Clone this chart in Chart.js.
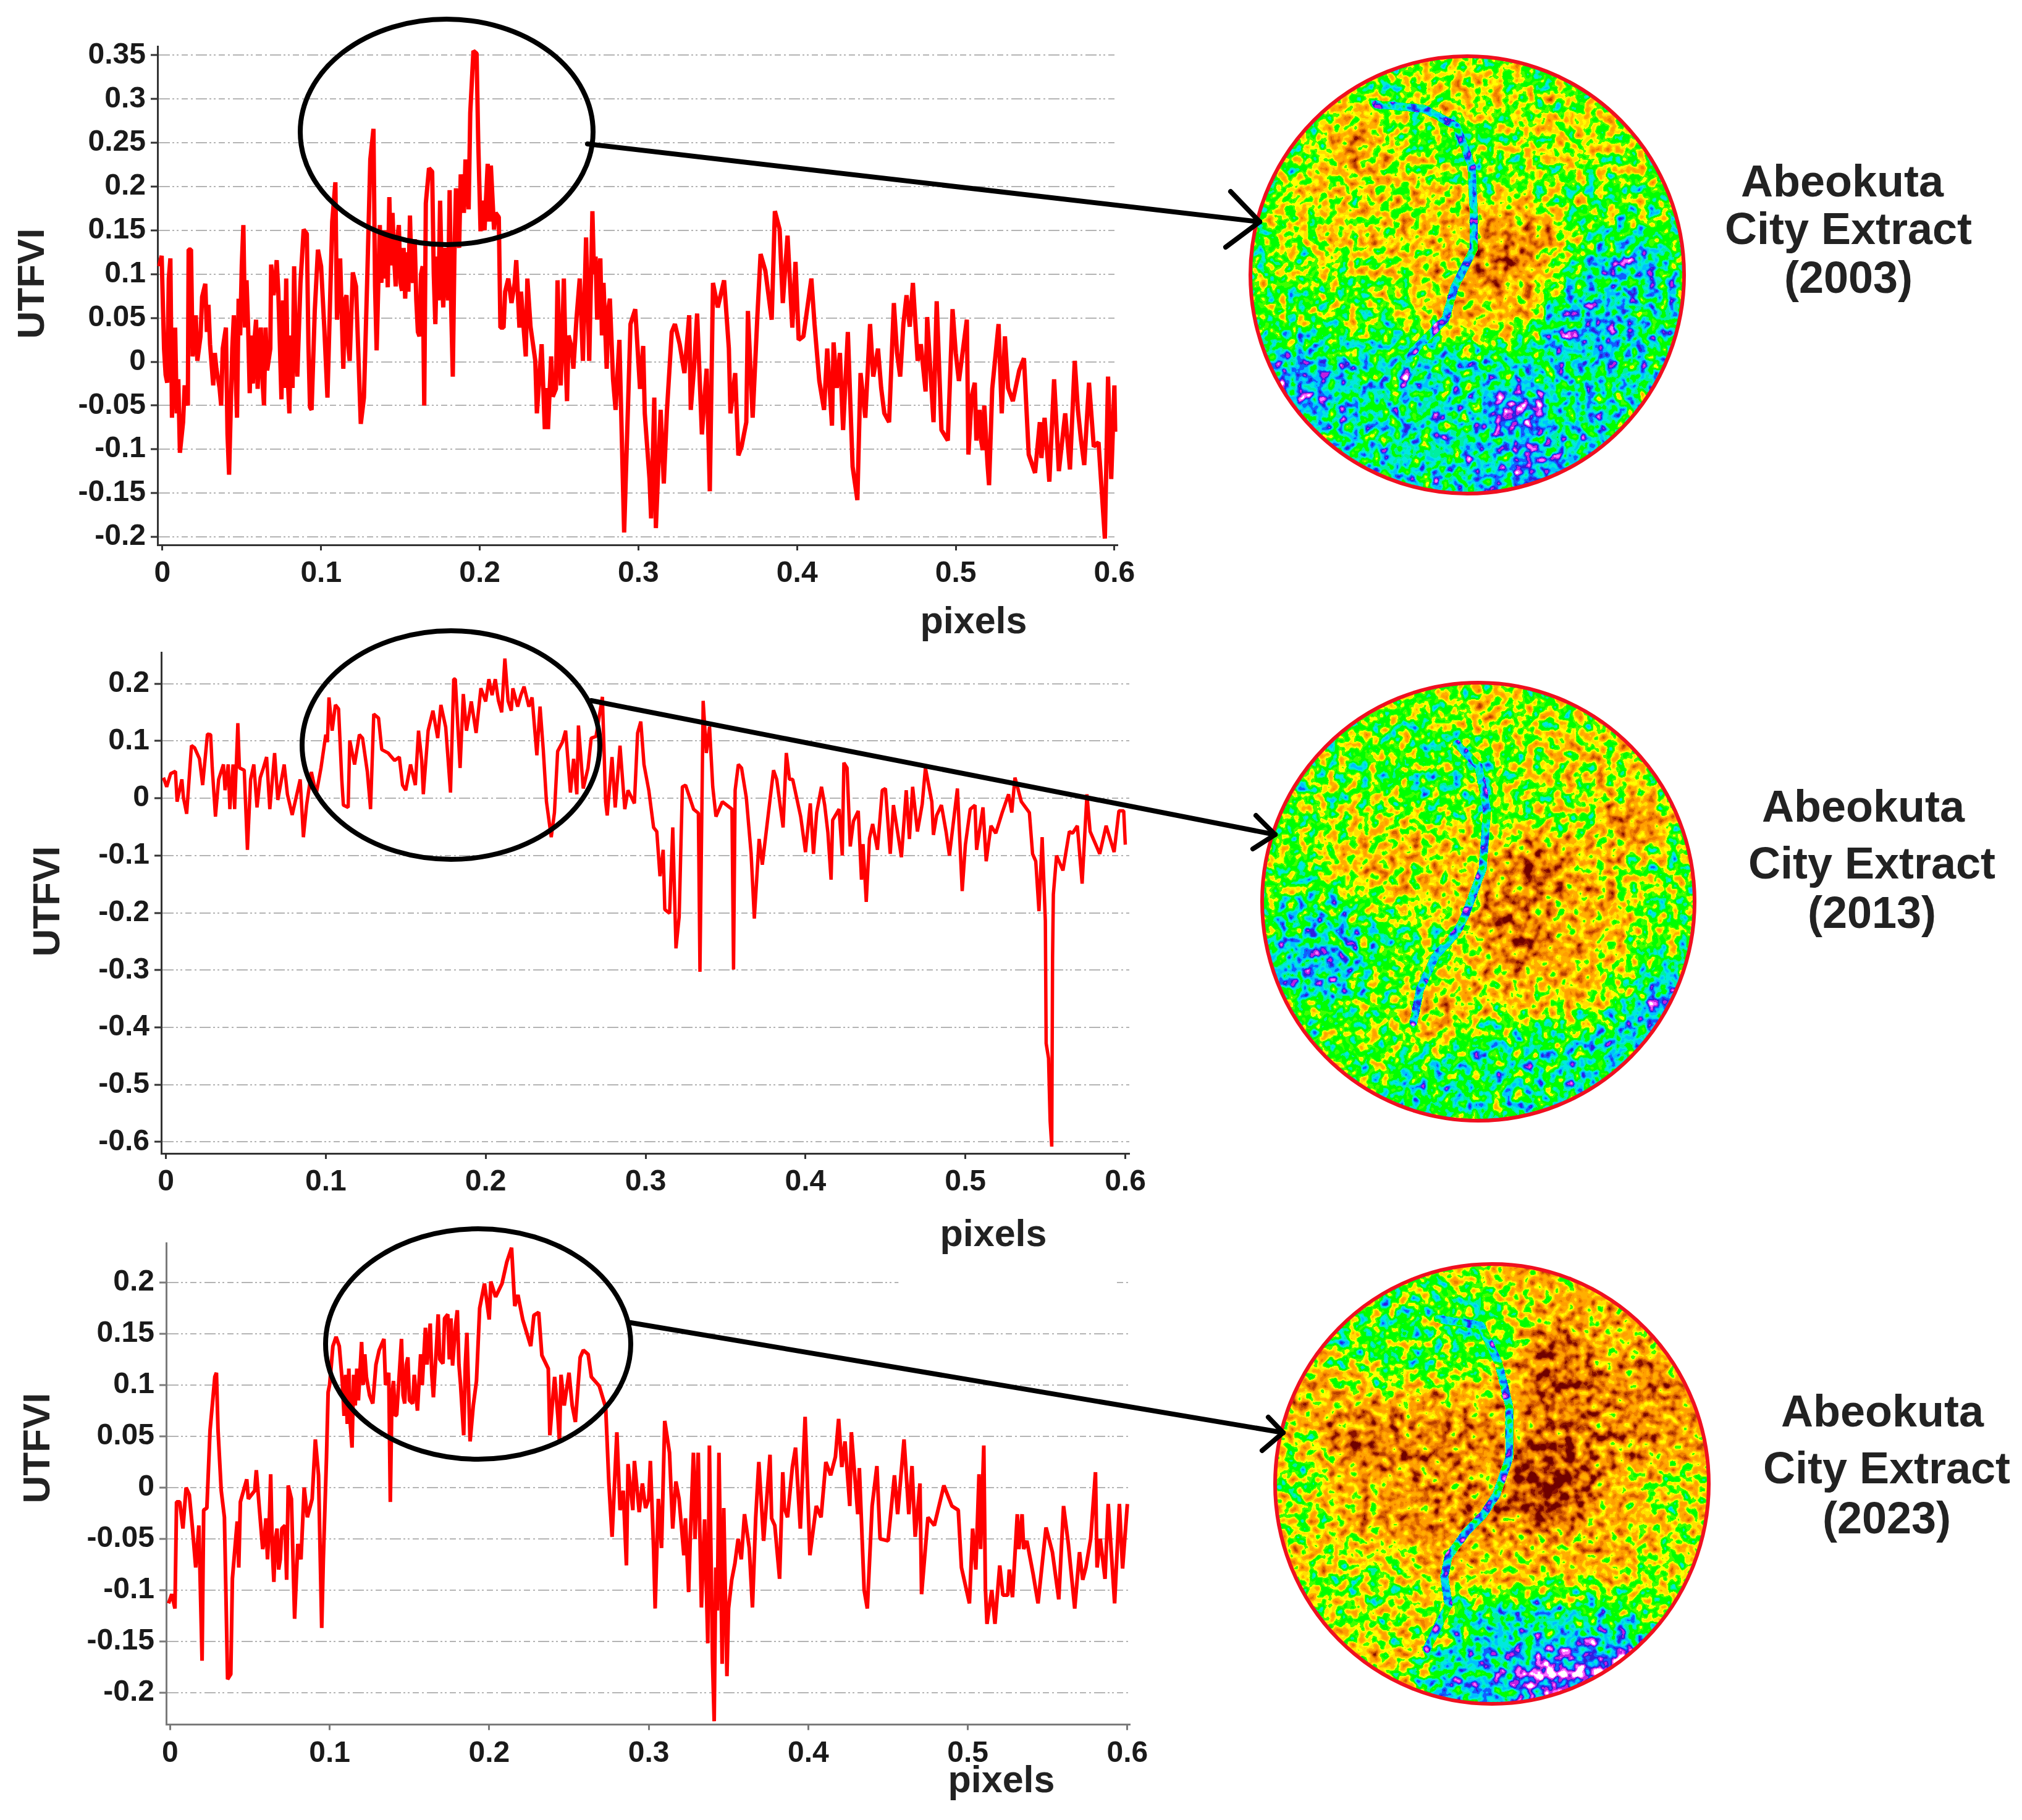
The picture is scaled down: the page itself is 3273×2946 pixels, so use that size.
<!DOCTYPE html>
<html>
<head>
<meta charset="utf-8">
<title>Abeokuta UTFVI</title>
<script src="https://cdn.jsdelivr.net/npm/chart.js@4"></script>
<style>
  html, body { margin: 0; padding: 0; background: #fff; }
  #page { position: relative; width: 3273px; height: 2946px; overflow: hidden; background: #fff; }
  canvas { position: absolute; left: 0; }
  #overlay { position: absolute; left: 0; top: 0; pointer-events: none; }
  #overlay text { font-family: "Liberation Sans", Arial, sans-serif; font-weight: bold; fill: #222; }
</style>
</head>
<body>
<div id="page">
  <canvas id="chart2003"></canvas>
  <canvas id="chart2013"></canvas>
  <canvas id="chart2023"></canvas>
  <svg id="overlay" width="3273" height="2946" xmlns="http://www.w3.org/2000/svg"></svg>
</div>
<script>
const xTickValues = [0, 0.1, 0.2, 0.3, 0.4, 0.5, 0.6];
const yTicks2003 = [0.35, 0.3, 0.25, 0.2, 0.15, 0.1, 0.05, 0, -0.05, -0.1, -0.15, -0.2];
const yTicks2013 = [0.2, 0.1, 0, -0.1, -0.2, -0.3, -0.4, -0.5, -0.6];
const yTicks2023 = [0.2, 0.15, 0.1, 0.05, 0, -0.05, -0.1, -0.15, -0.2];

// [pixels, UTFVI]
const profile2003 = [
  [-.002,.109],[-.0005,.121],[.001,.015],[.002,-.015],[.003,-.024],[.004,.095],[.005,.118],[.006,-.064],[.008,.039],[.009,-.059],
  [.010,-.02],[.011,-.104],[.013,-.069],[.014,-.027],[.016,-.05],[.0165,.128],[.018,.128],[.019,.006],[.021,.053],[.022,.001],
  [.024,.029],[.025,.074],[.027,.089],[.028,.034],[.029,.065],[.030,.02],[.032,-.027],[.033,.01],[.034,-.008],[.036,-.03],[.037,-.05],[.038,.015],[.040,.039],[.041,-.083],
  [.042,-.129],[.044,.015],[.045,.053],[.047,-.064],[.048,.072],[.049,.03],[.050,.11],[.051,.156],[.052,.039],[.053,.093],[.054,.04],[.055,-.036],[.056,.03],[.057,-.025],[.058,.025],
  [.059,.048],[.060,-.031],[.061,.02],[.062,.039],[.063,-.02],[.064,-.05],[.065,.039],[.066,-.01],[.068,.015],[.0685,.111],[.070,.076],[.071,.09],[.072,.116],[.073,.081],[.074,.02],
  [.075,-.043],[.076,.07],[.077,-.03],[.078,.095],[.079,-.02],[.080,-.059],[.081,.03],[.082,-.03],[.083,.109],[.084,.02],[.085,-.017],[.087,.09],[.089,.151],[.091,.146],[.092,.02],[.093,-.052],[.094,-.055],[.096,.058],
  [.098,.128],[.100,.109],[.102,.039],[.104,-.041],[.107,.16],[.109,.205],[.110,.048],[.112,.118],[.114,-.008],[.115,.07],[.116,.076],[.117,.02],
  [.118,.001],[.120,.102],[.122,.086],[.125,-.071],[.127,-.041],[.129,.09],[.131,.231],[.133,.266],[.134,.086],[.135,.013],
  [.137,.156],[.138,.09],[.139,.15],[.14,.095],[.141,.15],[.142,.085],[.143,.188],[.144,.11],[.145,.17],[.146,.12],[.147,.086],[.148,.14],[.149,.156],[.15,.09],[.151,.081],[.152,.13],[.153,.072],[.154,.125],[.155,.08],[.156,.167],[.157,.1],[.158,.09],[.159,.14],[.16,.07],
  [.161,.034],[.162,.029],[.163,.1],[.164,.109],[.165,-.05],[.166,.181],[.168,.221],[.170,.217],[.171,.1],[.172,.043],[.173,.12],[.174,.07],[.175,.184],[.176,.1],[.177,.062],[.178,.13],
  [.179,.114],[.18,.07],[.181,.196],[.182,.06],[.183,-.017],[.184,.12],[.185,.198],[.187,.13],[.188,.214],[.19,.17],[.191,.231],[.193,.174],[.194,.284],[.196,.355],[.198,.352],
  [.199,.254],[.2005,.149],[.202,.184],[.203,.15],[.205,.226],[.206,.16],[.207,.224],[.209,.151],[.21,.17],[.212,.165],[.213,.039],[.215,.039],[.216,.08],[.218,.095],
  [.22,.067],[.222,.09],[.223,.116],[.225,.039],[.226,.08],[.228,.03],[.229,.006],[.23,.095],[.232,.04],[.235,.001],[.236,-.059],[.239,.02],[.241,-.077],[.242,-.03],[.243,-.077],
  [.245,.006],[.246,-.04],[.248,-.031],[.249,.093],[.251,-.027],[.252,.03],[.253,.095],[.254,.01],[.255,-.045],[.256,.03],[.258,.015],[.259,-.008],[.261,.05],[.263,.095],[.264,.05],[.265,.001],
  [.267,.142],[.269,.001],[.271,.172],[.272,.1],[.273,.12],[.274,.048],[.275,.1],[.276,.118],[.277,.03],[.278,.09],[.28,-.008],[.281,.06],[.282,.072],[.284,-.02],[.2856,-.055],[.288,.025],[.291,-.195],
  [.294,-.017],[.295,.043],[.298,.06],[.301,-.031],[.303,.018],[.304,-.059],[.307,-.134],[.308,-.179],[.31,-.041],[.311,-.19],
  [.314,-.055],[.316,-.139],[.318,-.055],[.321,.034],[.323,.043],[.326,.02],[.329,-.013],[.332,.053],[.333,-.055],[.335,-.008],
  [.337,.055],[.34,-.083],[.343,-.008],[.345,-.148],[.347,.09],[.35,.062],[.354,.093],[.357,.015],[.358,-.059],[.361,-.013],
  [.363,-.107],[.365,-.097],[.368,-.069],[.369,.058],[.372,-.064],[.375,.053],[.377,.123],[.38,.104],[.384,.048],[.386,.172],
  [.389,.151],[.391,.067],[.394,.144],[.397,.039],[.399,.114],[.401,.025],[.404,.029],[.409,.095],[.411,.043],[.414,-.022],
  [.417,-.055],[.419,.015],[.422,-.073],[.423,.022],[.425,-.03],[.427,.01],[.429,-.078],[.432,.034],[.435,-.12],[.438,-.158],[.44,-.013],[.443,-.064],
  [.446,.043],[.448,-.017],[.451,.015],[.453,-.03],[.455,-.059],[.458,-.069],[.461,.067],[.463,.01],[.465,-.017],[.467,.043],[.469,.076],[.471,.04],[.473,.09],
  [.476,.001],[.478,.02],[.481,-.034],[.482,.051],[.486,-.069],[.488,.069],[.491,-.078],[.495,-.09],[.498,.06],[.5,.01],[.502,-.022],
  [.507,.048],[.508,-.106],[.51,-.04],[.512,-.024],[.513,-.09],[.515,-.055],[.516,-.09],[.517,-.101],[.518,-.05],[.52,-.116],[.521,-.141],[.523,-.031],[.527,.043],[.529,-.059],
  [.531,.029],[.533,-.03],[.536,-.045],[.54,-.01],[.543,.004],[.546,-.106],[.55,-.127],[.553,-.069],[.554,-.11],[.556,-.064],[.559,-.137],[.562,-.02],[.565,-.125],
  [.569,-.059],[.572,-.123],[.575,.001],[.577,-.055],[.579,-.09],[.581,-.118],[.584,-.024],[.587,-.097],[.59,-.092],[.594,-.202],[.596,-.017],
  [.598,-.134],[.6,-.027],[.6005,-.08]
];
const profile2013 = [
  [-.0015,.036],[.0005,.02],[.003,.043],[.006,.047],[.007,-.006],[.01,.033],[.011,.001],[.013,-.027],[.016,.092],[.018,.088],
  [.021,.069],[.023,.023],[.026,.112],[.028,.111],[.029,.053],[.031,-.032],[.033,.033],[.036,.059],[.037,.014],[.039,.059],
  [.04,-.019],[.042,.059],[.043,-.019],[.045,.131],[.046,.053],[.049,.049],[.051,-.09],[.053,.033],[.055,.059],[.057,-.016],
  [.059,.036],[.061,.053],[.063,.072],[.065,-.019],[.068,.079],[.07,-.003],[.074,.059],[.076,.007],[.079,-.029],[.084,.033],
  [.086,-.068],[.088,-.012],[.091,.046],[.094,.007],[.097,.053],[.1,.111],[.101,.098],[.102,.176],[.104,.118],[.106,.163],
  [.108,.156],[.11,.033],[.111,-.012],[.114,-.016],[.115,.101],[.118,.059],[.121,.111],[.123,.105],[.126,.046],[.128,-.019],
  [.13,.147],[.133,.14],[.135,.085],[.139,.079],[.143,.066],[.146,.072],[.148,.023],[.15,.014],[.153,.059],[.156,.023],
  [.158,.118],[.16,.066],[.161,.007],[.164,.118],[.167,.153],[.17,.105],[.172,.163],[.175,.124],[.178,.01],[.18,.208],
  [.181,.208],[.184,.053],[.186,.182],[.188,.118],[.191,.169],[.194,.114],[.197,.192],[.2,.169],[.202,.208],[.204,.18],[.206,.208],
  [.208,.17],[.21,.15],[.212,.244],[.214,.17],[.216,.153],[.217,.192],[.22,.16],[.222,.18],[.224,.195],[.227,.16],[.229,.176],[.232,.075],[.234,.16],
  [.236,.085],[.238,-.006],[.241,-.068],[.243,-.025],[.245,.082],[.248,.098],[.25,.118],[.253,.01],[.255,.069],[.257,.007],
  [.258,.127],[.261,.017],[.264,.053],[.266,.105],[.269,.108],[.273,.177],[.275,-.006],[.276,-.03],[.279,.072],[.281,-.016],
  [.284,.092],[.287,-.019],[.289,.014],[.293,-.009],[.295,.114],[.297,.134],[.299,.059],[.302,.014],[.305,-.051],[.307,-.058],
  [.309,-.136],[.311,-.09],[.312,-.194],[.315,-.201],[.317,-.051],[.319,-.262],[.321,-.207],[.323,.02],[.325,.023],[.33,-.019],
  [.333,-.026],[.334,-.303],[.336,.17],[.338,.079],[.34,.125],[.342,.02],[.344,-.032],[.348,-.006],[.354,-.019],[.355,-.299],
  [.356,.014],[.358,.059],[.36,.053],[.363,.001],[.366,-.097],[.368,-.21],[.371,-.071],[.373,-.116],[.376,-.045],[.38,.049],
  [.382,.033],[.386,-.051],[.388,.079],[.39,.033],[.392,.033],[.397,-.032],[.4,-.094],[.403,-.009],[.405,-.097],[.407,-.025],
  [.41,.02],[.412,-.012],[.414,-.06],[.416,-.142],[.417,-.038],[.421,-.019],[.423,-.1],[.424,.062],[.426,.053],[.428,-.084],[.43,-.04],[.433,-.022],
  [.435,-.142],[.436,-.08],[.438,-.181],[.44,-.07],[.442,-.045],[.445,-.09],[.448,.014],[.45,.017],[.453,-.097],[.455,-.012],[.46,-.103],[.463,.014],
  [.465,-.071],[.467,.02],[.47,-.058],[.473,-.01],[.475,.053],[.479,-.006],[.48,-.064],[.482,-.03],[.485,-.012],[.488,-.06],[.49,-.1],[.495,.017],[.498,-.162],
  [.5,-.081],[.503,-.019],[.506,-.012],[.507,-.09],[.511,-.016],[.513,-.11],[.516,-.048],[.519,-.061],[.523,-.025],[.527,.007],
  [.529,-.025],[.531,.036],[.535,-.006],[.54,-.025],[.542,-.097],[.544,-.11],[.546,-.197],[.548,-.068],[.55,-.214],[.5505,-.428],
  [.552,-.454],[.5525,-.512],[.553,-.564],[.554,-.608],[.5545,-.279],[.555,-.168],[.557,-.1],[.561,-.126],[.565,-.058],[.567,-.061],
  [.57,-.048],[.573,-.149],[.576,.007],[.578,-.058],[.584,-.097],[.588,-.048],[.593,-.094],[.596,-.022],[.599,-.022],[.6,-.081]
];
const profile2023 = [
  [-.001,-.113],[.001,-.104],[.003,-.118],[.004,-.014],[.006,-.014],[.008,-.04],[.01,0],[.012,-.007],[.014,-.04],[.016,-.078],
  [.018,-.037],[.02,-.169],[.021,-.022],[.023,-.02],[.025,.056],[.028,.108],[.029,.112],[.03,.056],[.032,-.003],[.034,-.029],
  [.036,-.187],[.038,-.182],[.039,-.089],[.042,-.033],[.043,-.078],[.044,-.014],[.048,.008],[.049,-.011],[.053,-.003],[.054,.017],
  [.056,-.022],[.058,-.06],[.059,-.052],[.06,-.03],[.061,-.07],[.062,-.04],[.063,.013],[.064,-.06],[.065,-.092],[.066,-.05],[.067,-.04],[.068,-.08],[.069,-.07],[.07,-.04],[.072,-.037],[.073,-.09],[.074,.002],[.076,-.011],
  [.078,-.128],[.08,-.055],[.082,-.07],[.084,0],[.086,-.029],[.089,-.011],[.091,.047],[.093,.012],[.095,-.137],[.096,-.07],[.098,.03],
  [.099,.093],[.1,.101],[.102,.138],[.104,.147],[.106,.138],[.108,.101],[.109,.07],[.11,.11],[.111,.062],[.112,.116],[.113,.06],[.114,.039],[.115,.11],[.116,.08],[.117,.116],[.118,.085],
  [.12,.142],[.121,.1],[.122,.13],[.123,.108],[.125,.09],[.127,.082],[.129,.12],[.131,.134],[.134,.145],[.135,.1],[.137,.112],[.138,-.014],[.139,.09],[.14,.104],[.141,.07],[.142,.071],[.144,.12],[.145,.145],
  [.146,.09],[.147,.082],[.148,.12],[.149,.127],[.15,.085],[.152,.082],[.153,.11],[.155,.075],[.157,.13],[.158,.1],[.16,.156],[.161,.12],[.163,.16],[.164,.11],[.165,.088],[.167,.14],[.168,.169],[.169,.125],[.171,.121],
  [.172,.165],[.174,.169],[.175,.125],[.176,.165],[.177,.119],[.179,.16],[.18,.173],[.181,.12],[.182,.101],[.184,.051],[.185,.12],[.186,.151],[.188,.045],[.19,.08],[.192,.104],[.194,.175],[.197,.199],
  [.2,.164],[.201,.201],[.204,.186],[.208,.199],[.211,.22],[.214,.234],[.216,.177],[.218,.188],[.221,.164],[.226,.138],
  [.228,.168],[.231,.171],[.233,.129],[.237,.116],[.238,.051],[.24,.09],[.241,.108],[.243,.07],[.244,.045],[.245,.11],[.247,.08],[.25,.112],[.252,.08],[.254,.064],
  [.257,.127],[.259,.134],[.262,.13],[.264,.108],[.269,.099],[.273,.078],[.275,.004],[.277,-.048],[.28,.054],[.282,-.022],
  [.284,-.003],[.286,-.076],[.287,.023],[.29,-.022],[.291,.026],[.294,-.024],[.296,.004],[.298,-.02],[.3,-.011],[.301,.026],[.303,-.059],
  [.304,-.118],[.306,-.011],[.308,-.059],[.31,.065],[.313,.034],[.315,-.04],[.317,.006],[.319,-.011],[.322,-.066],[.323,-.03],[.325,-.102],[.326,-.05],
  [.328,.034],[.329,-.05],[.331,.034],[.333,-.117],[.335,-.031],[.337,-.152],[.338,.041],[.34,-.171],[.341,-.228],[.342,-.078],[.343,-.12],[.344,.034],
  [.346,-.172],[.347,-.02],[.349,-.184],[.35,-.118],[.352,-.09],[.354,-.074],[.356,-.05],[.358,-.07],[.36,-.026],[.363,-.059],[.365,-.117],[.367,-.03],[.369,.025],[.372,-.052],
  [.374,-.01],[.376,.032],[.377,-.03],[.379,-.037],[.382,-.089],[.384,.015],[.385,-.02],[.387,-.029],[.39,.02],[.392,.039],[.395,-.04],[.398,.069],[.4,-.02],[.401,-.066],[.405,-.018],
  [.408,-.029],[.411,.025],[.414,.012],[.417,.03],[.419,.067],[.421,.02],[.423,.045],[.426,-.018],[.427,.054],[.431,-.026],[.432,.019],[.435,-.1],
  [.437,-.118],[.44,-.018],[.443,.021],[.445,-.05],[.45,-.052],[.454,.012],[.456,-.026],[.46,.047],[.463,-.026],[.465,.021],
  [.467,-.048],[.47,.004],[.471,-.104],[.475,-.029],[.479,-.037],[.485,.002],[.49,-.018],[.494,-.022],[.496,-.078],[.501,-.113],
  [.503,-.04],[.505,-.08],[.507,.013],[.508,-.06],[.51,.041],[.511,-.098],[.512,-.133],[.515,-.1],[.517,-.133],[.52,-.076],[.522,-.105],[.525,-.105],[.526,-.08],[.528,-.107],
  [.531,-.026],[.532,-.06],[.534,-.026],[.535,-.06],[.537,-.052],[.541,-.085],[.544,-.113],[.549,-.039],[.553,-.063],[.557,-.109],[.56,-.018],[.563,-.055],
  [.567,-.118],[.57,-.063],[.572,-.09],[.574,-.078],[.577,-.05],[.58,.015],[.581,-.078],[.583,-.05],[.586,-.089],[.588,-.016],[.592,-.113],[.595,-.016],[.597,-.079],[.6,-.016]
];

const tickFont = { family: '"Liberation Sans", Arial, sans-serif', size: 48, weight: 'bold' };

// paints out the stretch of a grid line that is missing in the 2023 panel
const gridGapPlugin = {
  id: 'gridGap',
  beforeDatasetsDraw(chart, args, opts) {
    if (opts.y === undefined) return;
    const { x, y } = chart.scales;
    const c = chart.ctx;
    c.save();
    c.fillStyle = '#fff';
    c.fillRect(x.getPixelForValue(opts.from), y.getPixelForValue(opts.y) - 4, x.getPixelForValue(opts.to) - x.getPixelForValue(opts.from), 8);
    c.restore();
  }
};

function makeChart(id, points, yTicks, o) {
  const canvas = document.getElementById(id);
  canvas.width = 1900;
  canvas.height = o.canvasBottom - o.canvasTop;
  canvas.style.top = o.canvasTop + 'px';
  canvas.style.width = '1900px';
  canvas.style.height = canvas.height + 'px';
  return new Chart(canvas.getContext('2d'), {
    type: 'line',
    data: {
      datasets: [{
        data: points.map((p) => ({ x: p[0], y: p[1] })),
        borderColor: '#ff0000',
        borderWidth: o.lineWidth,
        borderJoinStyle: 'bevel',
        pointRadius: 0,
        tension: 0,
        clip: false
      }]
    },
    plugins: [gridGapPlugin],
    options: {
      responsive: false,
      animation: false,
      devicePixelRatio: 1,
      layout: { padding: { left: 0, right: 1900 - o.right, top: o.top - o.canvasTop, bottom: 0 } },
      plugins: { legend: { display: false }, tooltip: { enabled: false }, title: { display: false }, gridGap: o.gap || {} },
      scales: {
        x: {
          type: 'linear',
          min: o.xMin,
          max: o.xMax,
          afterFit: (s) => { s.height = o.canvasBottom - o.bottom; s.paddingLeft = 0; s.paddingRight = 0; },
          afterBuildTicks: (s) => { s.ticks = xTickValues.map((v) => ({ value: v })); },
          grid: { drawOnChartArea: false, tickLength: 9, tickColor: o.axisColor, tickWidth: 3 },
          border: { color: o.axisColor, width: 3 },
          ticks: { font: tickFont, color: '#1a1a1a', padding: 9, maxRotation: 0, autoSkip: false, callback: (v) => String(v) }
        },
        y: {
          type: 'linear',
          min: o.yMin,
          max: o.yMax,
          afterFit: (s) => { s.width = o.left; s.paddingTop = 0; s.paddingBottom = 0; },
          afterBuildTicks: (s) => { s.ticks = yTicks.map((v) => ({ value: v })); },
          grid: { color: '#b4b4b4', lineWidth: 2, tickLength: 11, tickColor: o.axisColor, tickWidth: 3 },
          border: { color: o.axisColor, width: 3, dash: [18, 4, 3, 4, 3, 5, 10, 5, 3, 5] },
          ticks: { font: tickFont, color: '#1a1a1a', padding: 8, autoSkip: false, callback: (v) => String(v) }
        }
      }
    }
  });
}

makeChart('chart2003', profile2003, yTicks2003, {
  canvasTop: 0, canvasBottom: 1000, left: 255, right: 1809, top: 75, bottom: 882,
  xMin: -0.0031, xMax: 0.602, yMin: -0.2092, yMax: 0.3602, lineWidth: 7, axisColor: '#333'
});
makeChart('chart2013', profile2013, yTicks2013, {
  canvasTop: 1030, canvasBottom: 1980, left: 261, right: 1828, top: 1056, bottom: 1867,
  xMin: -0.0029, xMax: 0.6025, yMin: -0.62, yMax: 0.2547, lineWidth: 5.5, axisColor: '#333'
});
makeChart('chart2023', profile2023, yTicks2023, {
  canvasTop: 1990, canvasBottom: 2890, left: 269, right: 1829, top: 2012, bottom: 2791.5,
  xMin: -0.0025, xMax: 0.6016, yMin: -0.2312, yMax: 0.2386, lineWidth: 6, axisColor: '#7a7a7a',
  gap: { y: 0.2, from: 0.4565, to: 0.5925 }
});

// ---- everything that is not a chart mark: labels, callouts, the map extracts ----
const paletteColours = ['#ffffff', '#ff70ff', '#c020e0', '#3020e0', '#1060ff', '#00c0ff', '#00e8e0', '#00f0a0', '#00ff00', '#00ff00',
  '#40ff00', '#ffff00', '#ffe000', '#ffb000', '#ffa000', '#f08000', '#d86000', '#b84000', '#8a1000', '#700000'];
const channel = (i) => paletteColours.map((c) => (parseInt(c.substr(1 + i * 2, 2), 16) / 255).toFixed(3)).join(' ');

const maps = [
  { id: 'm1', cx: 2375, cy: 445, rx: 351, ry: 354, seed: 4, base: 0.49,
    river: 'M-.42 -.78 L-.2 -.76 L-.05 -.68 L.02 -.5 L.03 -.28 L.03 -.12 L-.06 .06 L-.1 .2 L-.25 .35 L-.3 .5',
    blobs: [[-.45,-.3,.42,.3,.6],[-.52,-.62,.12,.14,.76],[.1,-.05,.4,.33,.64],[.1,-.07,.08,.08,.98],[.28,-.2,.1,.12,.8],[.2,.03,.1,.1,.76],
      [.05,.22,.25,.2,.66],[.5,-.65,.3,.18,.58],[0,-.85,.25,.12,.62],[0,.72,1.3,.42,.36],[.72,.2,.35,.42,.38],[.23,.63,.12,.08,.02],
      [-.8,.5,.18,.2,.24],[.3,.92,.2,.1,.2],[.75,-.02,.08,.08,.12],[.55,.25,.2,.12,.22]] },
  { id: 'm2', cx: 2393, cy: 1459.5, rx: 350, ry: 354.5, seed: 9, base: 0.5,
    river: 'M-.1 -.72 L0 -.62 L.04 -.42 L.02 -.15 L-.03 -.02 L-.06 .06 L-.1 .14 L-.2 .25 L-.27 .4 L-.3 .55',
    blobs: [[-.3,-.2,.42,.22,.64],[.3,.05,.4,.4,.68],[.26,-.14,.08,.09,1],[.1,.07,.08,.07,.95],[.22,.2,.07,.09,.92],[.72,-.35,.14,.12,.82],
      [-.1,.5,.25,.15,.7],[.05,-.88,.12,.1,.68],[.5,-.65,.3,.2,.6],[-.55,.18,.2,.12,.44],[-.75,.2,.25,.3,.38],[.4,.7,.5,.3,.36],
      [-.75,.28,.2,.1,.24],[.92,.45,.08,.16,.1],[.7,.5,.12,.12,.22],[0,.85,.5,.2,.4],[-.2,-.55,.2,.2,.44],[.3,.45,.4,.12,.64]] },
  { id: 'm3', cx: 2415, cy: 2402, rx: 351, ry: 356, seed: 15, base: 0.67,
    river: 'M-.25 -.75 L-.05 -.72 L.03 -.55 L.08 -.35 L.08 -.12 L.02 .05 L-.04 .14 L-.12 .22 L-.2 .33 L-.22 .42 L-.2 .55 L-.3 .75',
    blobs: [[-.35,-.72,.5,.28,.47],[.28,-.52,.12,.2,.88],[.28,-.05,.22,.25,.84],[.25,.02,.12,.1,.98],[-.35,-.2,.4,.18,.76],[-.65,-.22,.12,.08,.84],
      [.65,-.35,.28,.22,.76],[-.15,.13,.3,.08,.8],[-.5,.22,.15,.1,.76],[.3,.85,.55,.22,.12],[.25,.62,.5,.14,.36],[-.1,.9,.25,.2,.3],
      [-.6,.5,.3,.25,.54],[.85,.5,.2,.3,.54],[.85,.05,.12,.08,.44],[-.9,0,.1,.25,.48],[-.65,.85,.3,.15,.62]] }
];

const svgParts = [];
function line(x1, y1, x2, y2) {
  return `<line x1="${x1}" y1="${y1}" x2="${x2}" y2="${y2}" stroke="#000" stroke-width="8" stroke-linecap="round"/>`;
}
function label(text, x, y, size, rotate) {
  const t = rotate ? ` transform="rotate(-90 ${x} ${y})"` : '';
  return `<text x="${x}" y="${y}" font-size="${size}" text-anchor="middle"${t}>${text}</text>`;
}

maps.forEach((m) => {
  const fx = m.cx - m.rx - 20, fy = m.cy - m.ry - 20, fw = 2 * m.rx + 40, fh = 2 * m.ry + 40;
  const blobs = m.blobs.map((b) => {
    const g = Math.round(b[4] * 255);
    return `<ellipse cx="${m.cx + b[0] * m.rx}" cy="${m.cy + b[1] * m.ry}" rx="${b[2] * m.rx}" ry="${b[3] * m.ry}" fill="rgb(${g},${g},${g})"/>`;
  }).join('');
  const river = m.river.replace(/(-?\.?\d*\.?\d+) (-?\.?\d*\.?\d+)/g, (s, a, b) => `${m.cx + parseFloat(a) * m.rx} ${m.cy + parseFloat(b) * m.ry}`);
  const bg = Math.round(m.base * 255);
  svgParts.push(`
  <filter id="${m.id}soft" x="-10%" y="-10%" width="120%" height="120%" color-interpolation-filters="sRGB"><feGaussianBlur stdDeviation="26"/></filter>
  <filter id="${m.id}f" filterUnits="userSpaceOnUse" x="${fx}" y="${fy}" width="${fw}" height="${fh}" color-interpolation-filters="sRGB">
    <feTurbulence type="fractalNoise" baseFrequency="0.06" numOctaves="2" seed="${m.seed}" result="n"/>
    <feColorMatrix in="n" type="matrix" values="1 0 0 0 0 1 0 0 0 0 1 0 0 0 0 0 0 0 0 1" result="ng"/>
    <feComposite in="SourceGraphic" in2="ng" operator="arithmetic" k1="0" k2="1" k3="0.8" k4="-0.4"/>
    <feComponentTransfer>
      <feFuncR type="discrete" tableValues="${channel(0)}"/>
      <feFuncG type="discrete" tableValues="${channel(1)}"/>
      <feFuncB type="discrete" tableValues="${channel(2)}"/>
    </feComponentTransfer>
  </filter>
  <clipPath id="${m.id}c"><ellipse cx="${m.cx}" cy="${m.cy}" rx="${m.rx}" ry="${m.ry}"/></clipPath>
  <g clip-path="url(#${m.id}c)"><g filter="url(#${m.id}f)">
    <rect x="${fx}" y="${fy}" width="${fw}" height="${fh}" fill="rgb(${bg},${bg},${bg})"/>
    <g filter="url(#${m.id}soft)">${blobs}</g>
    <path d="${river}" fill="none" stroke="rgb(75,75,75)" stroke-width="13" stroke-linejoin="round" stroke-linecap="round"/>
  </g></g>
  <ellipse cx="${m.cx}" cy="${m.cy}" rx="${m.rx}" ry="${m.ry}" fill="none" stroke="#f01020" stroke-width="6"/>`);
});

// circled peaks and their arrows
svgParts.push(`<ellipse cx="723" cy="213.5" rx="237" ry="182.5" fill="none" stroke="#000" stroke-width="8"/>`);
svgParts.push(`<ellipse cx="730" cy="1206" rx="241" ry="185" fill="none" stroke="#000" stroke-width="8"/>`);
svgParts.push(`<ellipse cx="774" cy="2175.5" rx="247" ry="186.5" fill="none" stroke="#000" stroke-width="8"/>`);
svgParts.push(line(951, 233, 2039, 359), line(1992, 310, 2039, 359), line(2039, 359, 1984, 400));
svgParts.push(line(957, 1134, 2064, 1351), line(2033, 1320, 2064, 1351), line(2064, 1351, 2028, 1374));
svgParts.push(line(1021, 2141, 2077, 2319), line(2053, 2294, 2077, 2319), line(2077, 2319, 2043, 2348));

// axis labels
svgParts.push(label('UTFVI', 71, 459, 62, true), label('UTFVI', 96, 1459, 62, true), label('UTFVI', 80, 2344, 62, true));
svgParts.push(label('pixels', 1576, 1025, 61), label('pixels', 1608, 2017, 61), label('pixels', 1621, 2901, 61));

// map captions
svgParts.push(label('Abeokuta', 2982, 318, 72), label('City Extract', 2992, 395, 72), label('(2003)', 2992, 474, 72));
svgParts.push(label('Abeokuta', 3016, 1330, 72), label('City Extract', 3030, 1422, 72), label('(2013)', 3030, 1502, 72));
svgParts.push(label('Abeokuta', 3047, 2309, 72), label('City Extract', 3054, 2401, 72), label('(2023)', 3054, 2482, 72));

document.getElementById('overlay').innerHTML = svgParts.join('\n');
</script>
</body>
</html>
